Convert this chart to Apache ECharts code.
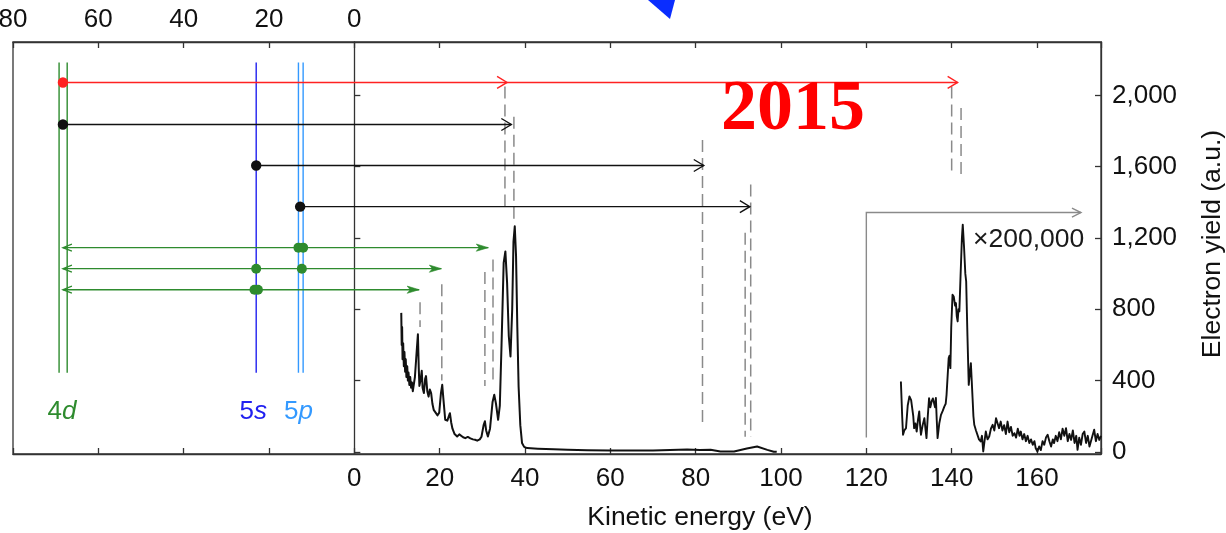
<!DOCTYPE html>
<html><head><meta charset="utf-8">
<script src="https://cdn.jsdelivr.net/npm/echarts@6/dist/echarts.min.js"></script>
<style>html,body{margin:0;padding:0;background:#fff}#c{width:1226px;height:533px}</style>
</head><body><div id="c"></div>
<script>
// ---------- DATA ----------
// Binding-energy axis (top, left panel) tick labels and kinetic-energy ticks (bottom)
const bindingTicks = [80, 60, 40, 20, 0];
const kineticTicks = [0, 20, 40, 60, 80, 100, 120, 140, 160];
const yieldTicks = [0, 400, 800, 1200, 1600, 2000];

// Energy levels (binding energy, eV)
const levelShell = ['4d', '4d', '5s', '5p', '5p'];
const levelBE = [69.2, 67.3, 23.0, 13.1, 12.0];
const levelSpan = [444, 2185];              // vertical extent in yield units
const shellLabels = ['4d', '5s', '5p'];
const shellLabelBE = [68.5, 23.7, 13.1];
const shellLabelY = 225;

// Transitions: kind, height, start (binding energy), end (kinetic energy)
const arrowKind = ['high', 'photo', 'photo', 'photo', 'auger', 'auger', 'auger'];
const arrowY = [2073, 1837, 1607, 1376, 1146, 1028, 910];
const arrowFromBE = [68.3, 68.3, 23.0, 12.7, 68.3, 68.3, 68.3];
const arrowToKE = [141.4, 36.8, 81.9, 92.7, 31.4, 20.4, 15.2];
const arrowMidKE = [35.8, null, null, null, null, null, null];
const augerDotsBE = [null, null, null, null, [13.1, 12.0], [23.0, 12.3], [23.4, 22.6]];

// Dashed guide lines: kinetic energy, top, bottom (yield units)
const guideKE = [35.3, 37.4, 81.6, 91.6, 92.9, 140.0, 142.2, 15.4, 20.5, 30.6, 32.5];
const guideTop = [2050, 1880, 1750, 1230, 1500, 2050, 1930, 840, 940, 1010, 1080];
const guideBottom = [1380, 1280, 135, 85, 85, 1545, 1545, 700, 400, 370, 390];

// Magnified region marker (x200,000)
const zoomMarkKE = 120;
const zoomMarkBottom = 80;
const zoomMarkTop = 1343;
const zoomMarkEndKE = 170.3;
const zoomLabel = '×200,000';
const zoomLabelPos = [145.0, 1191];

// Electron yield spectrum (kinetic energy eV, yield a.u.)
const spectrumMain = [
[11.0,780],[11.1,600],[11.2,700],[11.3,520],[11.45,610],[11.6,480],[11.75,560],[11.9,450],[12.05,520],[12.2,420],[12.4,480],[12.55,400],[12.7,445],[12.9,375],[13.1,420],[13.3,360],[13.5,390],[13.7,340],[13.9,350],[14.2,420],[14.6,560],[14.9,660],[15.1,470],[15.25,370],[15.5,400],[15.8,455],[16.0,360],[16.3,330],[16.6,410],[16.8,425],[17.1,340],[17.4,310],[17.7,350],[18.0,330],[18.3,270],[18.6,236],[19.0,225],[19.5,205],[19.9,220],[20.3,330],[20.6,376],[20.9,290],[21.3,180],[21.8,175],[22.4,217],[22.7,165],[23.0,130],[23.5,100],[24.1,86],[24.6,98],[25.0,95],[25.5,82],[26.0,77],[26.6,84],[27.2,76],[27.8,70],[28.3,68],[28.8,63],[29.4,70],[29.8,85],[30.3,150],[30.6,172],[30.9,120],[31.3,86],[31.8,130],[32.4,280],[32.8,320],[33.2,270],[33.7,180],[34.1,260],[34.5,600],[35.0,1060],[35.4,1125],[35.8,950],[36.2,650],[36.6,535],[37.0,800],[37.3,1180],[37.6,1266],[37.9,1100],[38.2,700],[38.5,367],[38.9,150],[39.3,50],[39.8,28],[40.5,21],[43,18],[46.7,15],[50,12],[54.6,9],[60,8],[65,8],[70,8],[74,10],[78,13],[81,10],[83.5,12],[85.8,2],[89,2],[92,19],[94.4,30],[96.8,11],[98.3,1],[99,0]
];
const spectrumMagnified = [
[128.1,395],[128.4,200],[128.6,96],[128.9,120],[129.3,133],[129.7,260],[130.1,311],[130.5,290],[130.8,301],[131.0,200],[131.2,133],[131.5,160],[131.8,114],[132.1,180],[132.4,227],[132.6,150],[132.8,96],[133.2,150],[133.6,189],[133.9,120],[134.1,77],[134.4,200],[134.7,301],[135.0,250],[135.3,283],[135.6,300],[135.9,311],[136.1,250],[136.3,303],[136.5,180],[136.7,77],[137.1,160],[137.5,208],[137.9,230],[138.3,255],[138.6,270],[138.8,320],[139.0,330],[139.3,526],[139.5,540],[139.7,470],[139.9,700],[140.2,882],[140.5,870],[140.8,820],[141.0,835],[141.2,760],[141.4,732],[141.6,800],[141.8,788],[142.1,1000],[142.4,1200],[142.6,1275],[142.9,1150],[143.2,1000],[143.4,957],[143.7,650],[144.0,376],[144.3,450],[144.5,498],[144.7,400],[144.9,301],[145.1,200],[145.3,152],[145.7,120],[146.1,114],[146.4,70],[146.8,58],[147.1,90],[147.4,2],[147.7,60],[148.0,114],[148.4,70],[148.8,86],[149.2,130],[149.6,152],[150.0,120],[150.4,189],[150.8,198],[151.1,133],[151.5,170],[151.9,120],[152.3,150],[152.7,100],[153.1,170],[153.5,110],[153.9,140],[154.3,90],[154.7,105],[155.1,80],[155.5,130],[155.9,90],[156.2,114],[156.6,70],[157.0,100],[157.4,60],[157.8,90],[158.2,49],[158.6,70],[159.0,40],[159.4,60],[159.7,20],[160.1,2],[160.5,30],[160.9,10],[161.3,60],[161.7,40],[162.1,80],[162.5,96],[162.9,60],[163.3,30],[163.7,70],[164.0,49],[164.4,90],[164.8,60],[165.2,110],[165.6,70],[166.0,130],[166.4,90],[166.8,133],[167.2,60],[167.6,100],[168.0,67],[168.4,120],[168.8,50],[169.2,90],[169.5,11],[169.9,80],[170.3,40],[170.7,100],[171.1,114],[171.5,50],[171.9,90],[172.3,30],[172.6,21],[173.0,90],[173.4,124],[173.8,60],[174.2,100],[174.6,67],[175.0,90]
];

// ---------- STYLE ----------
const FONT = '"Liberation Sans", Arial, Helvetica, sans-serif';
const TXT = '#111';
const AX = '#333';
const SHELL_COLORS = { '4d': '#2e8b2e', '5s': '#2020f0', '5p': '#3399ff' };
const KIND_COLORS = { high: '#ff2222', photo: '#111111', auger: '#2e8b2e' };
const GUIDE = '#8a8a8a';

const chart = echarts.init(document.getElementById('c'), null, { renderer: 'canvas' });

function chevron(x, y, dir, col, len, half, w) {
  return { type: 'polyline', shape: { points: [[x - dir * len, y - half], [x, y], [x - dir * len, y + half]] },
           style: { stroke: col, fill: null, lineWidth: w } };
}
function dart(x, y, dir, col) {
  return { type: 'polygon', shape: { points: [[x, y], [x - dir * 12, y - 3.6], [x - dir * 9, y], [x - dir * 12, y + 3.6]] },
           style: { fill: col, stroke: col, lineWidth: 0.6 } };
}

const option = {
  animation: false,
  backgroundColor: '#fff',
  grid: { left: 13, right: 125, top: 42, bottom: 79, show: true, borderColor: AX, borderWidth: 1.3,
          backgroundColor: 'transparent', containLabel: false, outerBoundsMode: 'none' },
  xAxis: [
    { type: 'value', position: 'bottom', min: -80, max: 175, interval: 20,
      axisLine: { onZero: false, lineStyle: { color: AX, width: 1.3 } },
      axisTick: { inside: true, length: 6, lineStyle: { color: AX, width: 1.3 } },
      axisLabel: { margin: 12, fontSize: 26, color: TXT, fontFamily: FONT,
        formatter: v => (kineticTicks.indexOf(v) >= 0 ? String(v) : '') },
      splitLine: { show: false } },
    { type: 'value', position: 'top', min: -80, max: 175, interval: 20,
      axisLine: { onZero: false, lineStyle: { color: AX, width: 1.3 } },
      axisTick: { inside: true, length: 6, lineStyle: { color: AX, width: 1.3 } },
      axisLabel: { margin: 9, fontSize: 26, color: TXT, fontFamily: FONT,
        formatter: v => (bindingTicks.indexOf(-v) >= 0 ? String(-v) : '') },
      splitLine: { show: false } }
  ],
  yAxis: [
    { type: 'value', position: 'right', min: -12, max: 2300,
      axisLine: { onZero: false, show: true, lineStyle: { color: AX, width: 1.3 } },
      axisTick: { inside: true, length: 6, customValues: yieldTicks, lineStyle: { color: AX, width: 1.3 } },
      axisLabel: { margin: 11, fontSize: 26, color: TXT, fontFamily: FONT, customValues: yieldTicks,
        formatter: v => v.toLocaleString('en-US') },
      splitLine: { show: false } },
    { type: 'value', position: 'left', min: -12, max: 2300,
      axisLine: { show: true, onZero: true, onZeroAxisIndex: 0, lineStyle: { color: AX, width: 1.3 } },
      axisTick: { inside: true, length: 6, customValues: yieldTicks, lineStyle: { color: AX, width: 1.3 } },
      axisLabel: { show: false },
      splitLine: { show: false } }
  ],
  graphic: [
    { type: 'polygon', shape: { points: [[648, 0], [675, 0], [670, 19]] }, style: { fill: '#0a2dff' }, z: 100 },
    { type: 'text', x: 793, y: 110, z: 100,
      style: { text: '2015', font: 'bold 72px "Liberation Serif", "Times New Roman", serif', fill: '#ff0000', align: 'center', verticalAlign: 'middle' } },
    { type: 'text', x: 700, y: 518, z: 100,
      style: { text: 'Kinetic energy (eV)', font: '26.5px ' + FONT, fill: TXT, align: 'center', verticalAlign: 'middle' } },
    { type: 'text', x: 1213, y: 244, rotation: Math.PI / 2, z: 100,
      style: { text: 'Electron yield (a.u.)', font: '26.5px ' + FONT, fill: TXT, align: 'center', verticalAlign: 'middle' } }
  ],
  series: [
    // dashed guides
    { type: 'custom', coordinateSystem: 'cartesian2d', xAxisIndex: 0, yAxisIndex: 0, z: 2,
      data: guideKE.map((k, i) => [k, guideTop[i], guideBottom[i]]),
      renderItem: (p, api) => {
        const a = api.coord([api.value(0), api.value(1)]);
        const b = api.coord([api.value(0), api.value(2)]);
        return { type: 'line', shape: { x1: a[0], y1: a[1], x2: b[0], y2: b[1] },
                 style: { stroke: GUIDE, lineWidth: 1.5, lineDash: [12, 6] } };
      } },
    // energy levels
    { type: 'custom', coordinateSystem: 'cartesian2d', xAxisIndex: 0, yAxisIndex: 0, z: 3,
      data: levelBE.map((b, i) => [-b, levelSpan[0], levelSpan[1], i]),
      renderItem: (p, api) => {
        const a = api.coord([api.value(0), api.value(1)]);
        const b = api.coord([api.value(0), api.value(2)]);
        const col = SHELL_COLORS[levelShell[api.value(3)]];
        return { type: 'line', shape: { x1: a[0], y1: a[1], x2: b[0], y2: b[1] },
                 style: { stroke: col, lineWidth: 1.4 } };
      } },
    // shell labels
    { type: 'custom', coordinateSystem: 'cartesian2d', xAxisIndex: 0, yAxisIndex: 0, z: 3,
      data: shellLabelBE.map((b, i) => [-b, shellLabelY, i]),
      renderItem: (p, api) => {
        const c = api.coord([api.value(0), api.value(1)]);
        const name = shellLabels[api.value(2)];
        const col = SHELL_COLORS[name];
        return { type: 'text', x: c[0], y: c[1],
          style: { text: '{n|' + name[0] + '}{i|' + name.slice(1) + '}', align: 'center', verticalAlign: 'middle',
            rich: { n: { fontSize: 26, fontFamily: FONT, fill: col, color: col },
                    i: { fontSize: 26, fontFamily: FONT, fontStyle: 'italic', fill: col, color: col } } } };
      } },
    // spectrum
    { type: 'line', xAxisIndex: 0, yAxisIndex: 0, data: spectrumMain, showSymbol: false, symbol: 'none', z: 4,
      lineStyle: { color: '#111', width: 2, join: 'round' } },
    { type: 'line', xAxisIndex: 0, yAxisIndex: 0, data: spectrumMagnified, showSymbol: false, symbol: 'none', z: 4,
      lineStyle: { color: '#111', width: 1.9, join: 'round' } },
    // magnification marker
    { type: 'custom', coordinateSystem: 'cartesian2d', xAxisIndex: 0, yAxisIndex: 0, z: 5,
      data: [[zoomMarkKE, zoomMarkBottom, zoomMarkTop, zoomMarkEndKE, zoomLabelPos[0], zoomLabelPos[1]]],
      renderItem: (p, api) => {
        const a = api.coord([api.value(0), api.value(1)]);
        const b = api.coord([api.value(0), api.value(2)]);
        const e = api.coord([api.value(3), api.value(2)]);
        const t = api.coord([api.value(4), api.value(5)]);
        return { type: 'group', children: [
          { type: 'polyline', shape: { points: [a, b, e] }, style: { stroke: '#8a8a8a', fill: null, lineWidth: 1.4 } },
          chevron(e[0], e[1], 1, '#8a8a8a', 9, 4.5, 1.4),
          { type: 'text', x: t[0], y: t[1], style: { text: zoomLabel, font: '26.5px ' + FONT, fill: '#1a1a1a', align: 'left', verticalAlign: 'middle' } }
        ] };
      } },
    // transitions
    { type: 'custom', coordinateSystem: 'cartesian2d', xAxisIndex: 0, yAxisIndex: 0, z: 6,
      data: arrowY.map((y, i) => [-arrowFromBE[i], arrowToKE[i], y, i]),
      renderItem: (p, api) => {
        const i = api.value(3);
        const kind = arrowKind[i];
        const col = KIND_COLORS[kind];
        const p0 = api.coord([api.value(0), api.value(2)]);
        const p1 = api.coord([api.value(1), api.value(2)]);
        const ch = [{ type: 'line', shape: { x1: p0[0], y1: p0[1], x2: p1[0], y2: p1[1] }, style: { stroke: col, lineWidth: 1.4 } }];
        if (kind === 'auger') {
          ch.push(dart(p1[0], p1[1], 1, col));
          ch.push(chevron(p0[0], p0[1], -1, col, 9, 3.5, 1.3));
          (augerDotsBE[i] || []).forEach(be => {
            const d = api.coord([-be, api.value(2)]);
            ch.push({ type: 'circle', shape: { cx: d[0], cy: d[1], r: 5 }, style: { fill: col } });
          });
        } else {
          ch.push(chevron(p1[0], p1[1], 1, col, 10, 6, 1.4));
          if (arrowMidKE[i] != null) {
            const m = api.coord([arrowMidKE[i], api.value(2)]);
            ch.push(chevron(m[0], m[1], 1, col, 10, 6, 1.4));
          }
          ch.push({ type: 'circle', shape: { cx: p0[0], cy: p0[1], r: 5.2 }, style: { fill: col } });
        }
        return { type: 'group', children: ch };
      } }
  ]
};
chart.setOption(option);
</script>
</body></html>
